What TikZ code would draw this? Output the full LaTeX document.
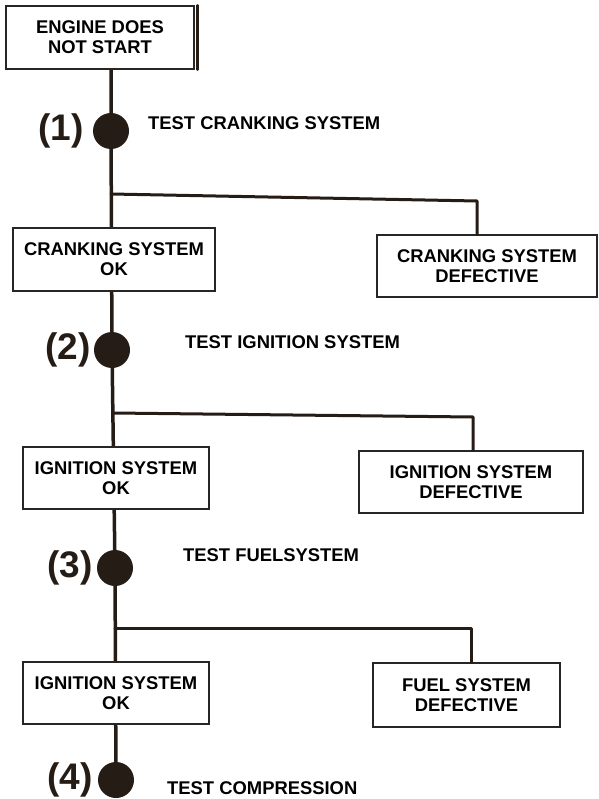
\documentclass[tikz,border=0pt]{standalone}
\usepackage{fontspec}
\setmainfont{Liberation Sans}
\usetikzlibrary{positioning,backgrounds}
\definecolor{ink}{RGB}{38,28,22}

\begin{document}
\begin{tikzpicture}[x=1pt,y=-1pt,line cap=round,
    box/.style={draw=black!85,line width=1.3pt,fill=white,inner sep=0pt,align=center,
        font=\fontsize{18.4}{20}\selectfont\bfseries},
    dot/.style={circle,fill=ink,inner sep=0pt,minimum size=36pt},
    trunk/.style={draw=ink,line width=3.5pt},
    branch/.style={draw=ink,line width=3pt,line join=round},
    numlbl/.style={font=\fontsize{37}{37}\selectfont\bfseries,text=ink,inner sep=0pt},
    testlbl/.style={anchor=west,inner sep=0pt,font=\fontsize{18.4}{20}\selectfont\bfseries}]
    \useasboundingbox (0,0) rectangle (598,799);
    % test points
    \foreach \n/\x/\y/\gap in {1/111/131/9,2/112/350/3,3/115/568/4,4/116/780/5}{
        \node[dot] (d\n) at (\x,\y) {};
        \node[numlbl,left=\gap pt of d\n] (n\n) {(\n)};
    }
    % boxes
    \node[box,minimum width=188pt,minimum height=63pt] (start) at (100,37.5) {ENGINE DOES\\NOT START};
    \node[box,minimum width=202pt,minimum height=63pt] (okA) at (114,259.5) {CRANKING SYSTEM\\OK};
    \node[box,minimum width=220pt,minimum height=62pt] (defA) at (487,266) {CRANKING SYSTEM\\DEFECTIVE};
    \node[box,minimum width=186pt,minimum height=62pt] (okB) at (116,478) {IGNITION SYSTEM\\OK};
    \node[box,minimum width=224pt,minimum height=62pt] (defB) at (471,482) {IGNITION SYSTEM\\DEFECTIVE};
    \node[box,minimum width=186pt,minimum height=62pt] (okC) at (116,693) {IGNITION SYSTEM\\OK};
    \node[box,minimum width=187pt,minimum height=64pt] (defC) at (466.5,695) {FUEL SYSTEM\\DEFECTIVE};
    \draw[ink,line width=2.5pt] ([xshift=3pt]start.north east) -- ([xshift=3pt]start.south east);
    % test labels
    \node[testlbl] (t1) at (148,123) {TEST CRANKING SYSTEM};
    \node[testlbl] (t2) at (185,342) {TEST IGNITION SYSTEM};
    \node[testlbl] (t3) at (183,555) {TEST FUELSYSTEM};
    \node[testlbl] (t4) at (167,788) {TEST COMPRESSION};
    % main line and branches
    \begin{pgfonlayer}{background}
        \draw[trunk] (start.south -| d1) -- (d1) -- (d2) -- (d3) -- (d4);
    \end{pgfonlayer}
    \coordinate (j1) at (111,194);
    \coordinate (j2) at (113,413);
    \coordinate (j3) at (115,628);
    \draw[branch] (j1) -- (477,201) coordinate (k1) -- (k1 |- defA.north);
    \draw[branch] (j2) -- (473,417) coordinate (k2) -- (k2 |- defB.north);
    \draw[branch] (j3) -- (471,628) coordinate (k3) -- (k3 |- defC.north);
\end{tikzpicture}
\end{document}
